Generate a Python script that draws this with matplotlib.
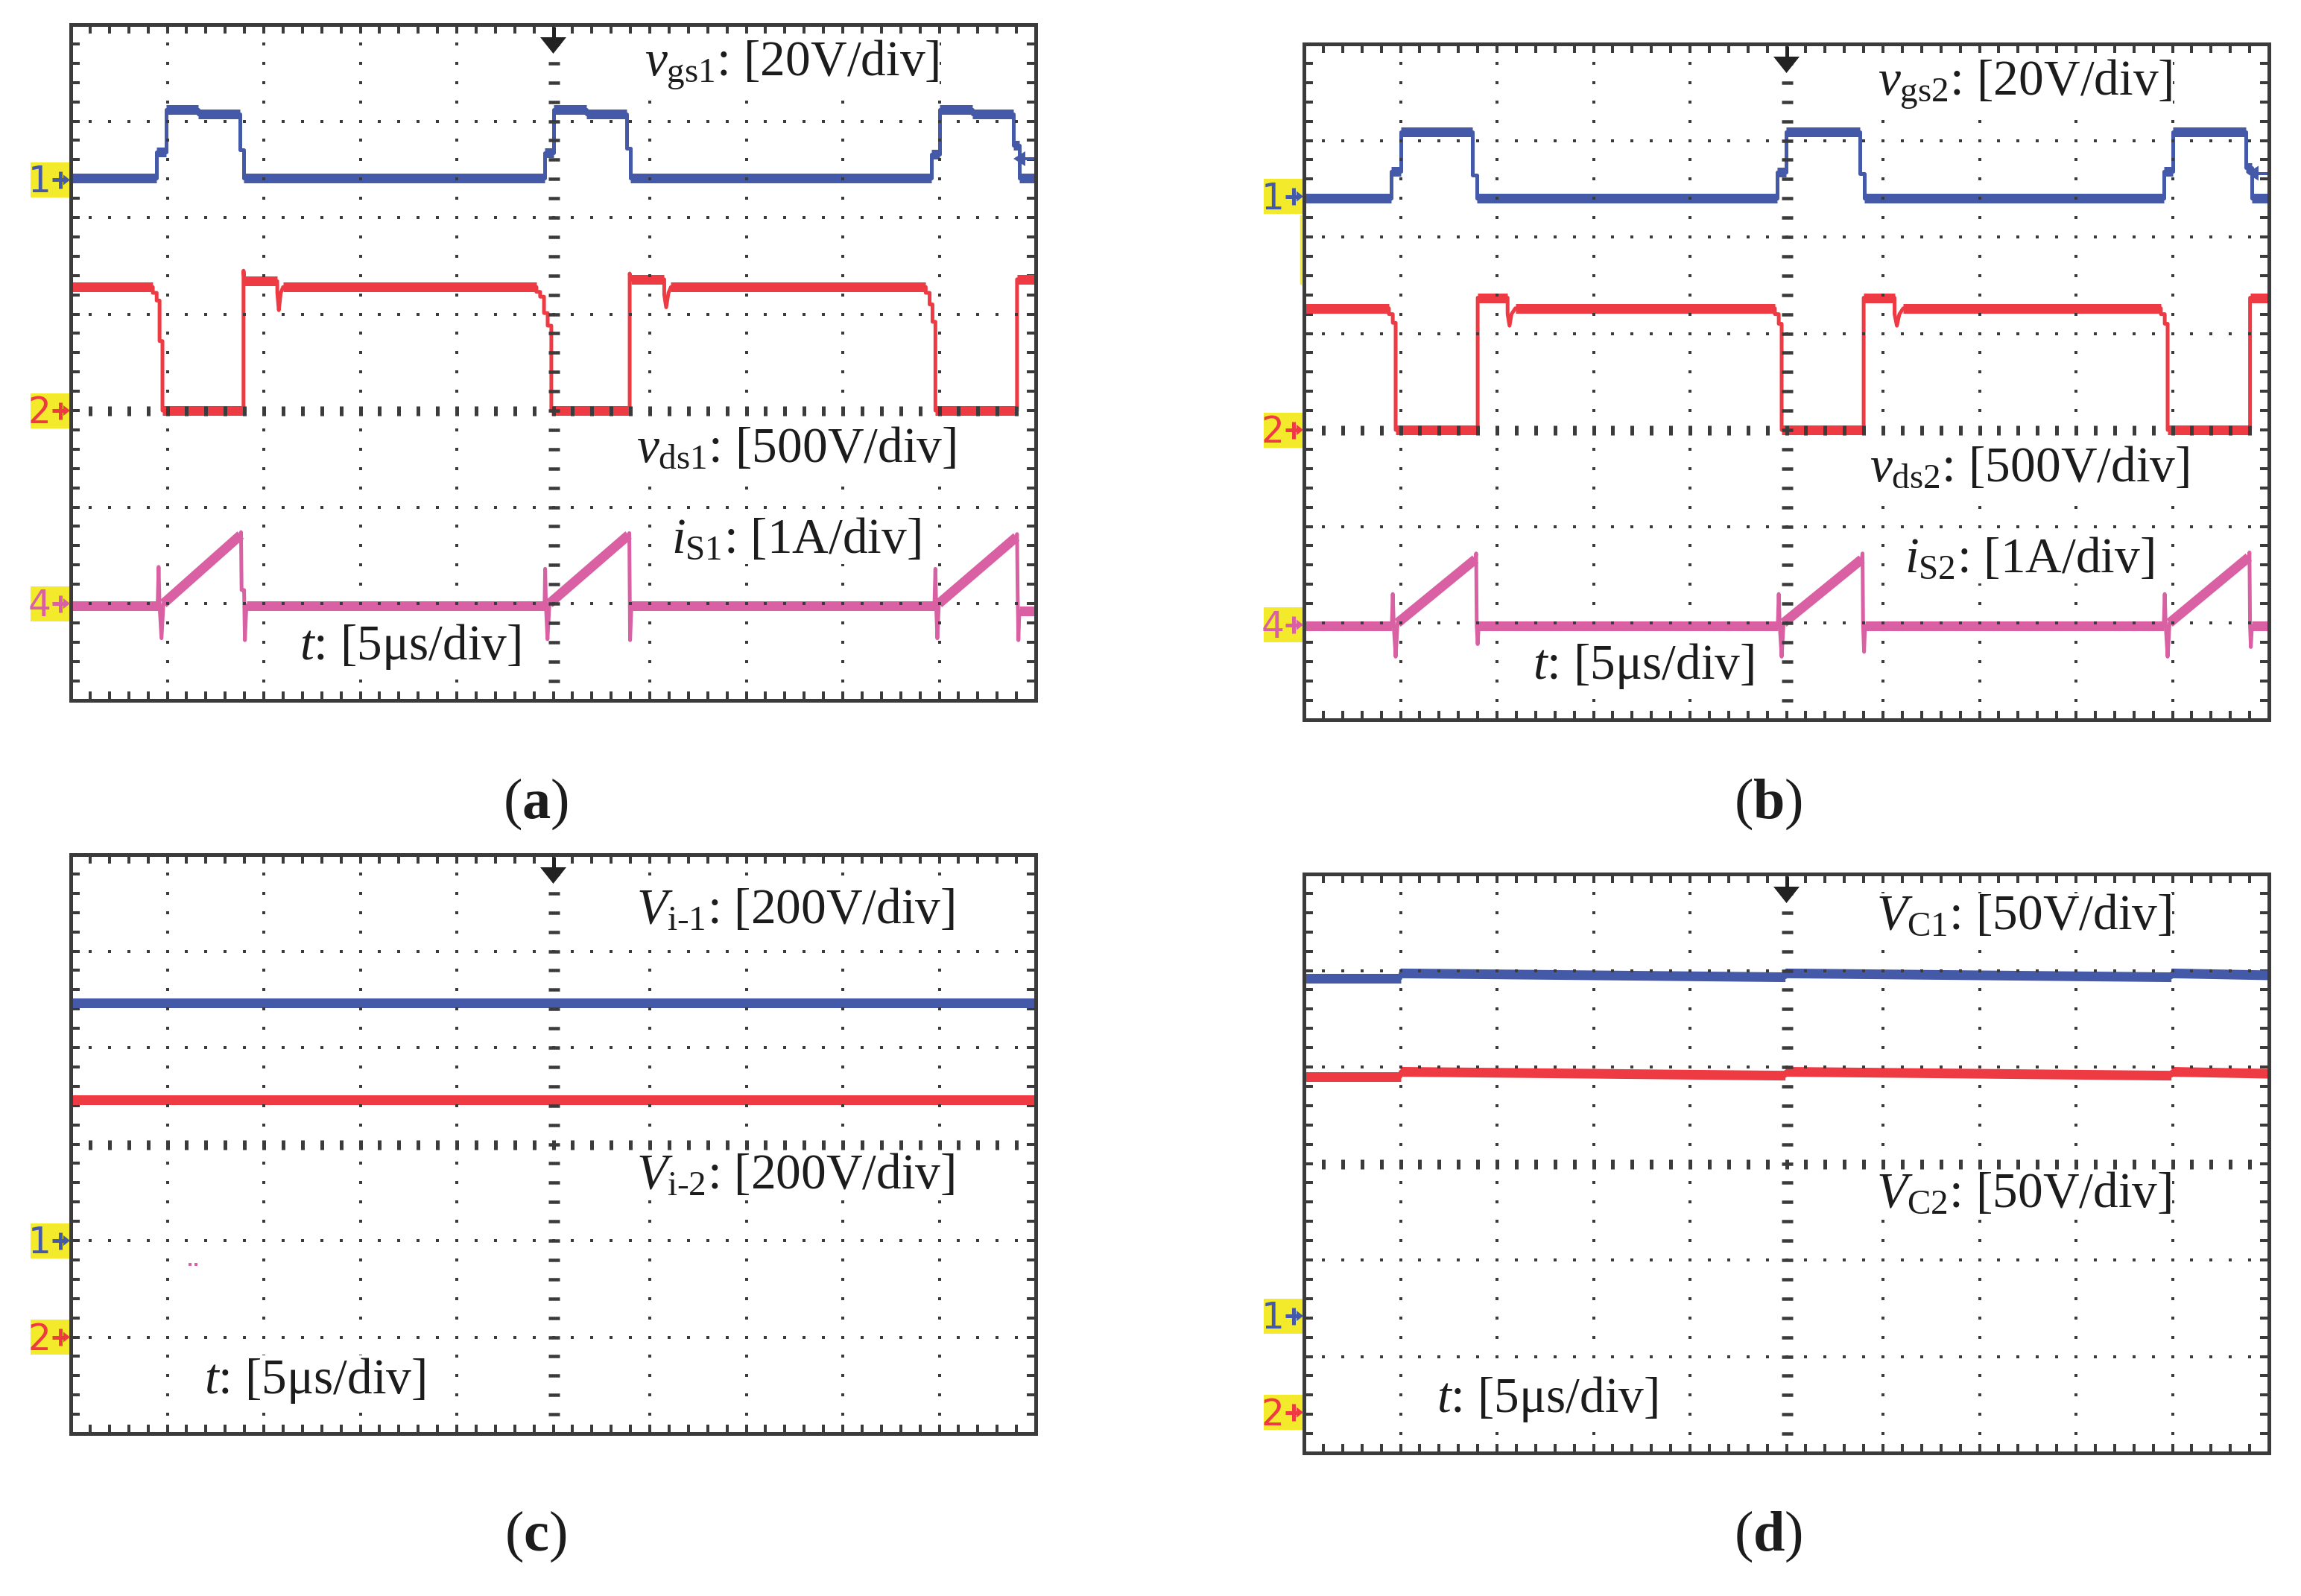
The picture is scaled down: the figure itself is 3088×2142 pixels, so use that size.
import numpy as np
import matplotlib
matplotlib.use("Agg")
import matplotlib.pyplot as plt
from matplotlib.collections import LineCollection
from matplotlib.patches import Rectangle, Polygon
import matplotlib.transforms as mtransforms

plt.rcParams['font.family'] = ['Liberation Serif', 'DejaVu Serif']
plt.rcParams['mathtext.fontset'] = 'custom'
plt.rcParams['mathtext.rm'] = 'Liberation Serif'
plt.rcParams['mathtext.it'] = 'Liberation Serif:italic'
plt.rcParams['mathtext.bf'] = 'Liberation Serif:bold'

# ---------------- data: time in us, amplitude in screen divisions ----------------
# panel (a)
a_vgs_t = [-25, -20.55, -20.55, -20.05, -20.05, -18.4, -18.4, -16.25, -16.25, -16.05, -16.05,
           -0.45, -0.45, 0.0, 0.0, 1.7, 1.7, 3.8, 3.8, 4.0, 4.0,
           19.6, 19.6, 20.0, 20.0, 21.7, 21.7, 23.85, 23.85, 24.15, 24.15, 25]
a_vgs_v = [2.41, 2.41, 2.68, 2.68, 3.12, 3.12, 3.07, 3.07, 2.70, 2.70, 2.41,
           2.41, 2.67, 2.67, 3.12, 3.12, 3.07, 3.07, 2.72, 2.72, 2.41,
           2.41, 2.66, 2.66, 3.12, 3.12, 3.07, 3.07, 2.75, 2.75, 2.41, 2.41]

a_vds_t = [-25, -20.75, -20.75, -20.55, -20.55, -20.4, -20.4, -20.25, -20.25,
           -16.05, -16.05, -16.0, -14.3, -14.3, -14.22, -14.12, -14.0,
           -0.87, -0.87, -0.68, -0.68, -0.48, -0.48, -0.29, -0.29, -0.1, -0.1,
           3.96, 3.96, 4.02, 5.75, 5.75, 5.85, 5.97, 6.1,
           19.3, 19.3, 19.5, 19.5, 19.65, 19.65, 19.8, 19.8, 24.03, 24.03, 25]
a_vds_v = [1.28, 1.28, 1.22, 1.22, 1.14, 1.14, 0.72, 0.72, 0.0,
           0.0, 1.45, 1.34, 1.34, 1.22, 1.04, 1.22, 1.28,
           1.28, 1.23, 1.23, 1.18, 1.18, 1.01, 1.01, 0.88, 0.88, 0.0,
           0.0, 1.42, 1.36, 1.36, 1.20, 1.07, 1.22, 1.28,
           1.28, 1.22, 1.22, 1.10, 1.10, 0.92, 0.92, 0.0, 0.0, 1.36, 1.36]

a_is_t = [-25, -20.5, -20.45, -20.4, -20.3, -20.2, -16.2, -16.18, -16.15, -16.02, -15.98, -15.9,
          -0.45, -0.42, -0.38, -0.3, -0.2, 3.9, 3.94, 3.98, 4.05,
          19.75, 19.8, 19.84, 19.9, 19.98, 24.0, 24.03, 24.06, 24.1, 24.15, 25]
a_is_v = [-2.02, -2.02, -1.62, -2.02, -2.36, -2.0, -1.29, -1.26, -1.86, -1.86, -2.38, -2.02,
          -2.02, -1.64, -2.02, -2.37, -2.0, -1.29, -1.27, -2.38, -2.02,
          -2.02, -1.64, -2.02, -2.36, -2.0, -1.31, -1.28, -1.85, -2.38, -2.08, -2.08]

# panel (b)
b_vgs_t = [-25, -20.5, -20.5, -20.0, -20.0, -16.27, -16.27, -16.05, -16.05,
           -0.5, -0.5, -0.02, -0.02, 3.8, 3.8, 4.02, 4.02,
           19.55, 19.55, 20.0, 20.0, 23.8, 23.8, 24.1, 24.1, 25]
b_vgs_v = [2.40, 2.40, 2.68, 2.68, 3.09, 3.09, 2.64, 2.64, 2.40,
           2.40, 2.67, 2.67, 3.09, 3.09, 2.66, 2.66, 2.40,
           2.40, 2.68, 2.68, 3.09, 3.09, 2.72, 2.72, 2.40, 2.40]

b_vds_t = [-25, -20.6, -20.6, -20.4, -20.4, -20.25, -20.25, -16.0, -16.0, -14.45, -14.45, -14.35, -14.25, -14.05,
           -0.6, -0.6, -0.4, -0.4, -0.25, -0.25, 4.0, 4.0, 5.6, 5.6, 5.72, 5.85, 6.05,
           19.4, 19.4, 19.6, 19.6, 19.75, 19.75, 24.02, 24.02, 25]
b_vds_v = [1.26, 1.26, 1.20, 1.20, 1.11, 1.11, 0.0, 0.0, 1.37, 1.37, 1.20, 1.08, 1.20, 1.26,
           1.26, 1.20, 1.20, 1.10, 1.10, 0.0, 0.0, 1.37, 1.37, 1.20, 1.08, 1.20, 1.26,
           1.26, 1.20, 1.20, 1.10, 1.10, 0.0, 0.0, 1.37, 1.37]

b_is_t = [-25, -20.45, -20.4, -20.35, -20.25, -20.15, -16.12, -16.08, -16.05, -16.0, -15.95,
          -0.45, -0.4, -0.35, -0.25, -0.15, 3.9, 3.94, 3.97, 4.02, 4.07,
          19.55, 19.6, 19.65, 19.75, 19.85, 23.95, 23.99, 24.02, 24.06, 24.12, 25]
b_is_v = [-2.03, -2.03, -1.70, -2.03, -2.35, -2.0, -1.34, -1.28, -2.03, -2.22, -2.03,
          -2.03, -1.70, -2.03, -2.35, -2.0, -1.34, -1.28, -2.03, -2.30, -2.03,
          -2.03, -1.70, -2.03, -2.35, -2.0, -1.32, -1.27, -2.03, -2.25, -2.03, -2.03]

# panel (c)
c_t = [-25, 25]
c_vi1 = [1.46, 1.46]
c_vi2 = [0.46, 0.46]
c_dots_t = [-18.84, -18.51]
c_dots_v = [-1.245, -1.245]

# panel (d)
d_t = [-25, -20.0, -20.0, -0.05, -0.05, 19.95, 19.95, 25]
d_vc1 = [1.92, 1.92, 1.97, 1.93, 1.97, 1.93, 1.97, 1.95]
d_vc2 = [0.90, 0.90, 0.95, 0.91, 0.95, 0.91, 0.95, 0.93]

# channel reference markers (division level)
a_refs = [('1', 2.39), ('2', 0.0), ('4', -2.0)]
b_refs = [('1', 2.42), ('2', 0.0), ('4', -2.02)]
c_refs = [('1', -1.0), ('2', -2.0)]
d_refs = [('1', -1.58), ('2', -2.58)]

# ---------------- style ----------------
W, H = 3088, 2142
DIV = 129.5
BLUE = '#4459A8'
RED = '#EE3A43'
PINK = '#D960A3'
GRID = '#3b3b3b'
YEL = '#F2EA2A'
TXT = '#1c1c1c'
PT = 0.72  # points per pixel at dpi 100
REF_COL = {'1': BLUE, '2': RED, '4': PINK}

fig = plt.figure(figsize=(W / 100, H / 100), dpi=100)
fig.patch.set_facecolor('white')


def make_scope(left_px, top_px, n_up, n_down):
    h = (n_up + n_down) * DIV
    ax = fig.add_axes([left_px / W, 1 - (top_px + h) / H, 10 * DIV / W, h / H])
    ax.set_xlim(-25, 25)
    ax.set_ylim(-n_down, n_up)
    for s in ax.spines.values():
        s.set_linewidth(5 * PT)
        s.set_color(GRID)
    ax.set_xticks(np.linspace(-25, 25, 51))
    ax.set_yticks(np.linspace(-n_down, n_up, 5 * (n_up + n_down) + 1))
    ax.tick_params(direction='in', length=12 * PT, width=4 * PT, color=GRID,
                   top=True, right=True, labelbottom=False, labelleft=False)
    # dotted division lines
    xs = np.linspace(-25, 25, 51)[1:-1]
    ys = np.linspace(-n_down, n_up, 5 * (n_up + n_down) + 1)[1:-1]
    for yv in range(-n_down + 1, n_up):
        if yv == 0:
            continue
        ax.plot(xs, np.full(len(xs), yv), ls='none', marker='s', ms=4.5 * PT,
                mew=0, color=GRID, zorder=2.2)
    for xv in (-20, -15, -10, -5, 5, 10, 15, 20):
        ax.plot(np.full(len(ys), xv), ys, ls='none', marker='s', ms=4.5 * PT,
                mew=0, color=GRID, zorder=2.2)
    # centre axes with graticule marks
    ax.plot(np.zeros(len(ys)), ys, ls='none', marker='_', ms=15 * PT, mew=4.5 * PT,
            color=GRID, zorder=2.2)
    ax.plot(xs, np.zeros(len(xs)), ls='none', marker='|', ms=13 * PT, mew=5 * PT,
            color=GRID, zorder=2.2)
    # trigger position arrow
    tr = mtransforms.blended_transform_factory(ax.transData, ax.transAxes)
    hpx = h
    hw = 17.5 / DIV * 5
    ax.plot([0, 0], [1 - 3 / hpx, 1 - 18 / hpx], transform=tr, color='#222222',
            lw=5 * PT, clip_on=False, zorder=6, solid_capstyle='butt')
    ax.add_patch(Polygon([(-hw, 1 - 17 / hpx), (hw, 1 - 17 / hpx), (0, 1 - 39 / hpx)],
                         closed=True, transform=tr, facecolor='#222222', edgecolor='none',
                         clip_on=False, zorder=6))
    return ax


def trace(ax, t, v, color, lw_edge=5.0, lw_flat=13.0, min_dt=0.25):
    ax.plot(t, v, color=color, lw=lw_edge * PT, zorder=1.8, solid_joinstyle='round')
    segs = [((t[i], v[i]), (t[i + 1], v[i + 1])) for i in range(len(t) - 1)
            if t[i + 1] - t[i] >= min_dt]
    ax.add_collection(LineCollection(segs, colors=color, linewidths=lw_flat * PT,
                                     capstyle='butt', zorder=1.8))


def ref_marker(ax, label, level):
    col = REF_COL[label]
    aw = 10 * DIV
    tr = mtransforms.blended_transform_factory(ax.transAxes, ax.transData)
    hb = 47 / DIV
    ax.add_patch(Rectangle((-54 / aw, level - hb / 2), 52 / aw, hb, transform=tr,
                           facecolor=YEL, edgecolor='none', clip_on=False, zorder=6))
    ax.text(-42 / aw, level - 17 / DIV, label, transform=tr, color=col, fontsize=35,
            family='DejaVu Sans', ha='center', va='baseline', clip_on=False, zorder=7)
    ax.plot([-25 / aw, -8 / aw], [level, level], transform=tr, color=col, lw=5 * PT,
            clip_on=False, zorder=7, solid_capstyle='butt')
    ax.plot([-14 / aw, -14 / aw], [level - 11.5 / DIV, level + 11.5 / DIV], transform=tr,
            color=col, lw=5 * PT, clip_on=False, zorder=7, solid_capstyle='butt')
    ax.add_patch(Polygon([(-10 / aw, level - 7 / DIV), (-10 / aw, level + 7 / DIV),
                          (-1 / aw, level)], closed=True, transform=tr, facecolor=col,
                         edgecolor='none', clip_on=False, zorder=7))


def trig_level(ax, level):
    aw = 10 * DIV
    tr = mtransforms.blended_transform_factory(ax.transAxes, ax.transData)
    ax.add_patch(Polygon([(1 - 30 / aw, level), (1 - 14 / aw, level + 10 / DIV),
                          (1 - 14 / aw, level - 10 / DIV)], closed=True, transform=tr,
                         facecolor=BLUE, edgecolor='none', zorder=2.0))
    ax.plot([1 - 16 / aw, 1], [level, level], transform=tr, color=BLUE, lw=4 * PT, zorder=2.0)


def label(x_px, y_px, s, size=48.5):
    fig.text(x_px / W, 1 - y_px / H, s, ha='right', va='baseline', fontsize=size, color=TXT,
             bbox=dict(facecolor='white', edgecolor='none', pad=1.0))


# ---------------- panel (a) ----------------
ax_a = make_scope(95, 33, 4, 3)
trace(ax_a, a_vgs_t, a_vgs_v, BLUE)
trace(ax_a, a_vds_t, a_vds_v, RED)
trace(ax_a, a_is_t, a_is_v, PINK)
trig_level(ax_a, 2.61)
for lab, lev in a_refs:
    ref_marker(ax_a, lab, lev)
label(1260, 102, r'$v_{\mathrm{gs1}}$: [20V/div]')
label(1283, 620, r'$v_{\mathrm{ds1}}$: [500V/div]')
label(1236, 742, r'$i_{\mathrm{S1}}$: [1A/div]')
label(699, 885, r'$t$: [5μs/div]')

# ---------------- panel (b) ----------------
ax_b = make_scope(1750, 59, 4, 3)
trace(ax_b, b_vgs_t, b_vgs_v, BLUE)
trace(ax_b, b_vds_t, b_vds_v, RED)
trace(ax_b, b_is_t, b_is_v, PINK)
trig_level(ax_b, 2.66)
for lab, lev in b_refs:
    ref_marker(ax_b, lab, lev)
tr_b = mtransforms.blended_transform_factory(ax_b.transAxes, ax_b.transData)
ax_b.plot([-4 / (10 * DIV), -4 / (10 * DIV)], [2.22, 1.51], transform=tr_b, color=YEL,
          lw=2.5 * PT, clip_on=False, zorder=6)
label(1260 + 1655, 102 + 26, r'$v_{\mathrm{gs2}}$: [20V/div]')
label(1283 + 1655, 620 + 26, r'$v_{\mathrm{ds2}}$: [500V/div]')
label(1236 + 1655, 742 + 26, r'$i_{\mathrm{S2}}$: [1A/div]')
label(699 + 1655, 885 + 26, r'$t$: [5μs/div]')

# ---------------- panel (c) ----------------
ax_c = make_scope(95, 1147, 3, 3)
trace(ax_c, c_t, c_vi1, BLUE, lw_flat=13)
trace(ax_c, c_t, c_vi2, RED, lw_flat=13)
ax_c.plot(c_dots_t, c_dots_v, ls='none', marker='s', ms=4.5 * PT, mew=0, color=PINK, zorder=1.9)
for lab, lev in c_refs:
    ref_marker(ax_c, lab, lev)
label(1281, 1240, r'$V_{\mathrm{i\text{-}1}}$: [200V/div]')
label(1281, 1596, r'$V_{\mathrm{i\text{-}2}}$: [200V/div]')
label(571, 1870, r'$t$: [5μs/div]')

# ---------------- panel (d) ----------------
ax_d = make_scope(1750, 1173, 3, 3)
trace(ax_d, d_t, d_vc1, BLUE, lw_flat=13)
trace(ax_d, d_t, d_vc2, RED, lw_flat=13)
for lab, lev in d_refs:
    ref_marker(ax_d, lab, lev)
label(2914, 1247, r'$V_{\mathrm{C1}}$: [50V/div]')
label(2914, 1620, r'$V_{\mathrm{C2}}$: [50V/div]')
label(2225, 1895, r'$t$: [5μs/div]')

# ---------------- sub-figure captions ----------------
for cx, cy, letter in [(719, 1079, 'a'), (2373, 1079, 'b'), (719, 2062, 'c'), (2373, 2062, 'd')]:
    fig.text(cx / W, 1 - cy / H, r'($\mathbf{' + letter + r'}$)', ha='center', va='center',
             fontsize=55, color=TXT)

fig.savefig('out.png', dpi=100, facecolor='white')
